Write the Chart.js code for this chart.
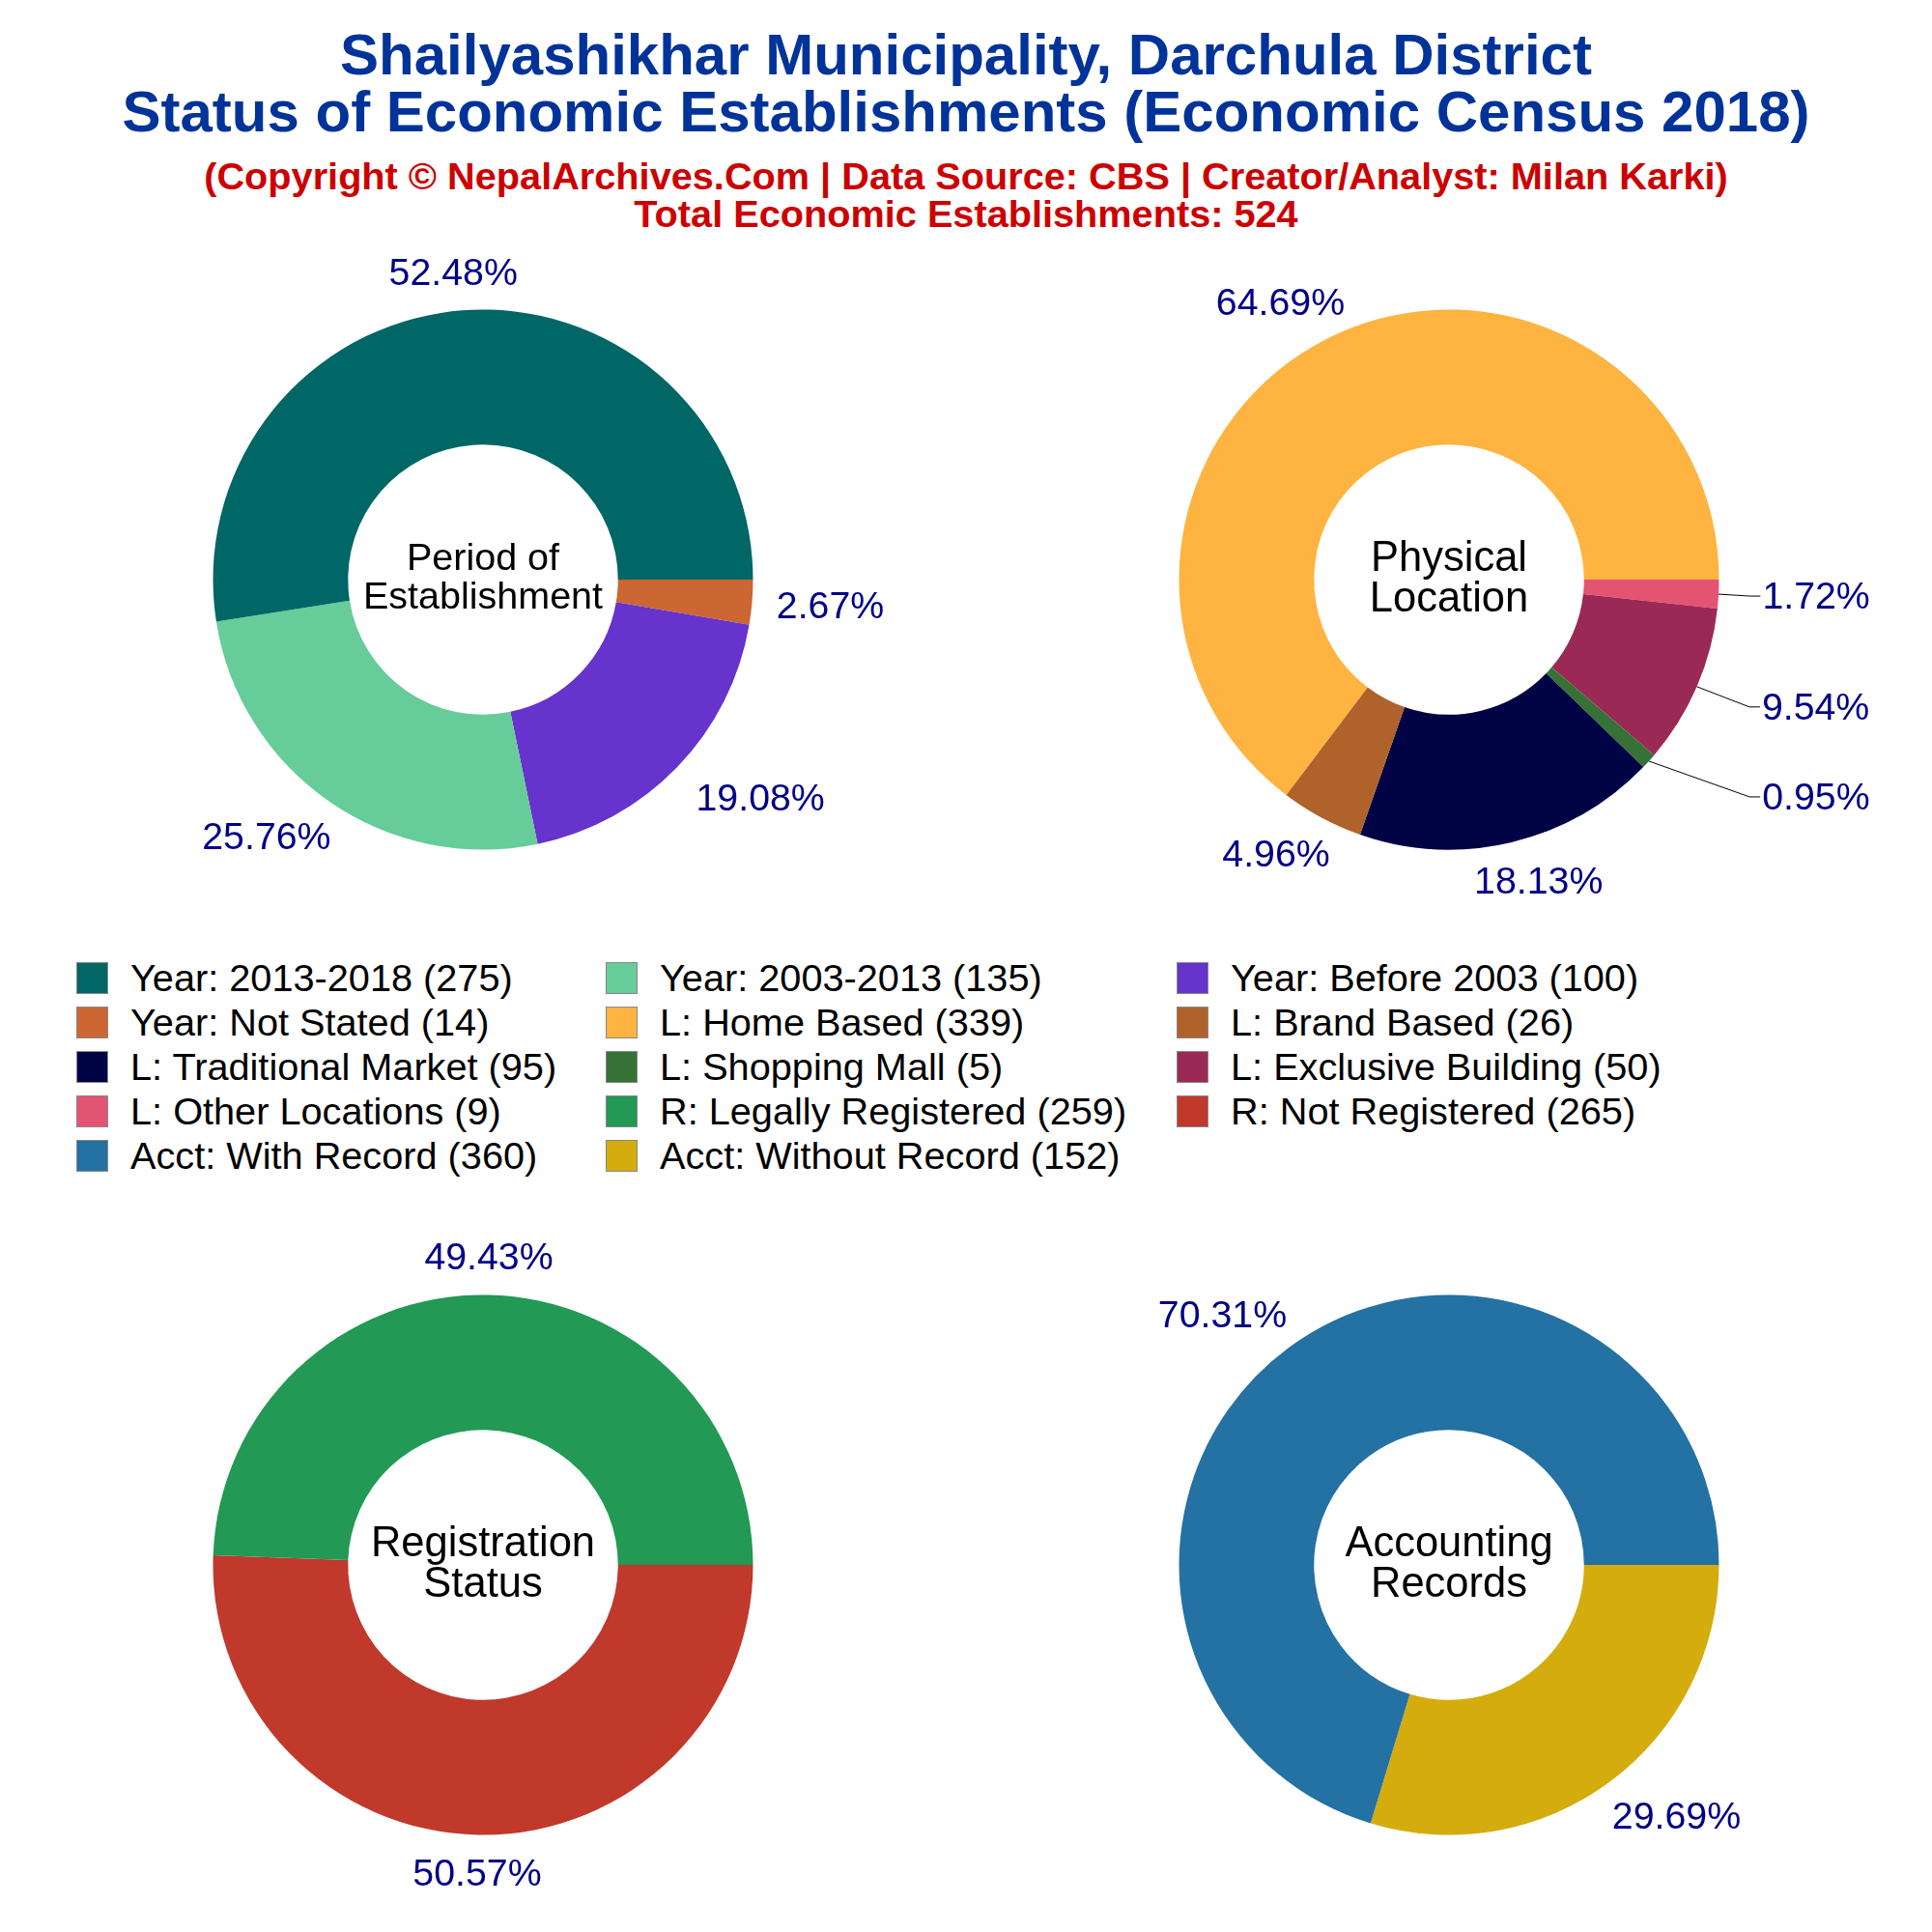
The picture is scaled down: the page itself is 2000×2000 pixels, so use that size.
<!DOCTYPE html>
<html>
<head>
<meta charset="utf-8">
<title>Shailyashikhar Municipality - Economic Census 2018</title>
<script src="https://cdn.jsdelivr.net/npm/chart.js@4"></script>
<style>
  html, body { margin: 0; padding: 0; background: #fff; }
  body { width: 2000px; height: 2000px; position: relative; overflow: hidden; font-family: "Liberation Sans", Arial, sans-serif; }
  canvas { position: absolute; }
  .head { position: absolute; left: 0; width: 2000px; text-align: center; white-space: nowrap; font-weight: bold; }
  .blue { color: #003399; font-size: 60px; line-height: 59px; }
  .red { color: #cc0000; font-size: 39.7px; line-height: 39px; }
  #legend { position: absolute; left: 79px; top: 989px; display: grid; grid-template-columns: 548px 591px 500px; grid-auto-rows: 46px; font-size: 39.7px; color: #000; }
  .key { display: flex; align-items: center; white-space: nowrap; }
  .swatch { width: 33px; height: 33px; margin-right: 23px; box-sizing: border-box; border: 1px solid #888; flex: none; }
</style>
</head>
<body>
<div class="head blue" style="top:27px">Shailyashikhar Municipality, Darchula District<br>Status of Economic Establishments (Economic Census 2018)</div>
<div class="head red" style="top:163px">(Copyright © NepalArchives.Com | Data Source: CBS | Creator/Analyst: Milan Karki)<br>Total Economic Establishments: 524</div>

<canvas id="pie-period" width="1000" height="760" style="left:0;top:220px"></canvas>
<canvas id="pie-location" width="1000" height="760" style="left:1000px;top:220px"></canvas>
<div id="legend"></div>
<canvas id="pie-registration" width="1000" height="760" style="left:0;top:1240px"></canvas>
<canvas id="pie-accounting" width="1000" height="760" style="left:1000px;top:1240px"></canvas>

<script>
const periodLabels = ['Year: 2013-2018', 'Year: 2003-2013', 'Year: Before 2003', 'Year: Not Stated'];
const periodValues = [275, 135, 100, 14];
const periodColors = ['#006666', '#66cc99', '#6633cc', '#cc6633'];

const locationLabels = ['L: Home Based', 'L: Brand Based', 'L: Traditional Market', 'L: Shopping Mall', 'L: Exclusive Building', 'L: Other Locations'];
const locationValues = [339, 26, 95, 5, 50, 9];
const locationColors = ['#ffb340', '#b0622b', '#000444', '#367136', '#9b2955', '#e35473'];

const registrationLabels = ['R: Legally Registered', 'R: Not Registered'];
const registrationValues = [259, 265];
const registrationColors = ['#229954', '#c0392b'];

const accountingLabels = ['Acct: With Record', 'Acct: Without Record'];
const accountingValues = [360, 152];
const accountingColors = ['#2471a3', '#d4ac0d'];

Chart.defaults.font.family = '"Liberation Sans", Arial, sans-serif';

// Draws the percent labels, leader lines and the ring's centre text
const ringText = {
  id: 'ringText',
  afterDatasetsDraw(chart, args, opts) {
    const ctx = chart.ctx;
    const arcs = chart.getDatasetMeta(0).data;
    const total = opts.values.reduce((a, b) => a + b, 0);
    ctx.save();
    ctx.textAlign = 'center';
    ctx.textBaseline = 'middle';

    arcs.forEach((arc, i) => {
      const { x, y, startAngle, endAngle, outerRadius } = arc.getProps(['x', 'y', 'startAngle', 'endAngle', 'outerRadius'], true);
      const mid = (startAngle + endAngle) / 2;
      const edgeX = x + Math.cos(mid) * outerRadius;
      const edgeY = y + Math.sin(mid) * outerRadius;
      const labelX = edgeX + opts.offsets[i][0];
      const labelY = edgeY + opts.offsets[i][1];
      const text = (opts.values[i] / total * 100).toFixed(2) + '%';

      ctx.font = '39.3px "Liberation Sans", Arial, sans-serif';
      ctx.fillStyle = '#000088';
      ctx.fillText(text, labelX, labelY + 2);

      if (opts.leaders[i]) {
        const left = labelX - ctx.measureText(text).width / 2 - 2;
        ctx.strokeStyle = '#000';
        ctx.lineWidth = 1;
        ctx.beginPath();
        ctx.moveTo(edgeX, edgeY);
        ctx.lineTo(left - 11, labelY);
        ctx.lineTo(left, labelY);
        ctx.stroke();
      }
    });

    const { x, y } = arcs[0].getProps(['x', 'y'], true);
    ctx.font = opts.centerFont + 'px "Liberation Sans", Arial, sans-serif';
    ctx.fillStyle = '#000';
    ctx.fillText(opts.center[0], x, y + opts.centerDy[0]);
    ctx.fillText(opts.center[1], x, y + opts.centerDy[1]);
    ctx.restore();
  }
};

// The reference runs counter-clockwise from 3 o'clock, Chart.js only clockwise,
// so everything goes in reversed and starts at rotation 90
function makePie(id, labels, values, colors, text) {
  const rev = (list) => list.slice().reverse();
  new Chart(document.getElementById(id), {
    type: 'doughnut',
    data: {
      labels: rev(labels),
      datasets: [{ data: rev(values), backgroundColor: rev(colors), borderWidth: 0 }]
    },
    plugins: [ringText],
    options: {
      responsive: false,
      animation: false,
      rotation: 90,
      cutout: '50%',
      layout: { padding: { left: 220.5, right: 220.5, top: 100.5, bottom: 100.5 } },
      plugins: {
        legend: { display: false },
        tooltip: { enabled: false },
        ringText: {
          values: rev(values),
          offsets: rev(text.offsets),
          leaders: rev(text.leaders || values.map(() => false)),
          center: text.center,
          centerFont: text.centerFont,
          centerDy: text.centerDy
        }
      }
    }
  });
}

makePie('pie-period', periodLabels, periodValues, periodColors, {
  offsets: [[-9, -39], [-65, 36], [86, 32], [81, 4]],
  center: ['Period of', 'Establishment'], centerFont: 39.5, centerDy: [-21, 19]
});
makePie('pie-location', locationLabels, locationValues, locationColors, {
  offsets: [[-50, -37], [-47, 38], [28, 40], [173, 37], [123, 21], [101, 2]],
  leaders: [false, false, false, true, true, true],
  center: ['Physical', 'Location'], centerFont: 43.5, centerDy: [-21, 21]
});
makePie('pie-registration', registrationLabels, registrationValues, registrationColors, {
  offsets: [[1, -39], [-1, 40]],
  center: ['Registration', 'Status'], centerFont: 43.5, centerDy: [-21, 21]
});
makePie('pie-accounting', accountingLabels, accountingValues, accountingColors, {
  offsets: [[-68, -34], [69, 36]],
  center: ['Accounting', 'Records'], centerFont: 43.5, centerDy: [-21, 21]
});

// Shared legend under the top row
const legend = document.getElementById('legend');
[
  [periodLabels, periodValues, periodColors],
  [locationLabels, locationValues, locationColors],
  [registrationLabels, registrationValues, registrationColors],
  [accountingLabels, accountingValues, accountingColors]
].forEach(([labels, values, colors]) => {
  labels.forEach((label, i) => {
    const key = document.createElement('div');
    key.className = 'key';
    key.innerHTML = `<span class="swatch" style="background:${colors[i]}"></span><span>${label} (${values[i]})</span>`;
    legend.appendChild(key);
  });
});
</script>
</body>
</html>
